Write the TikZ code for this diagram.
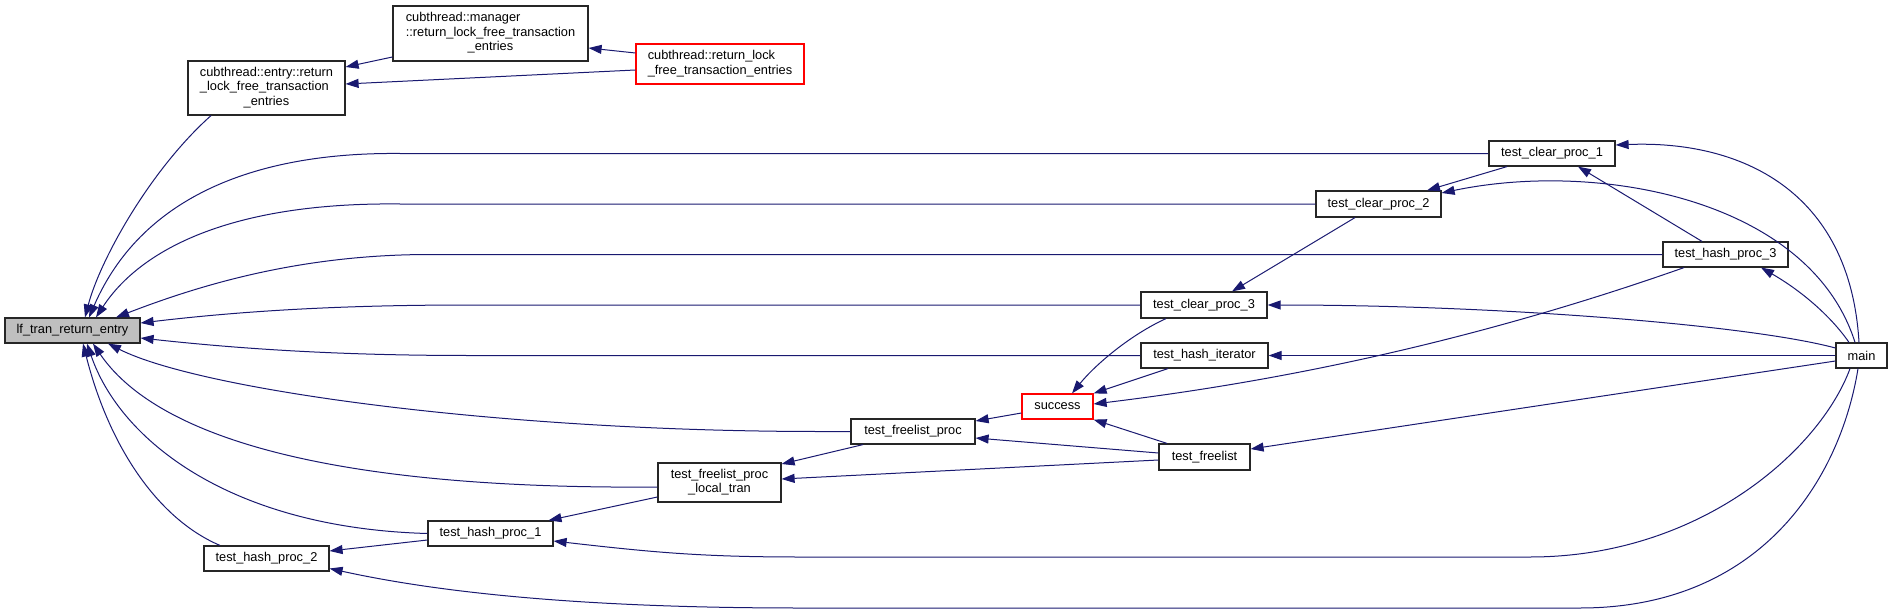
\documentclass[tikz,border=0pt]{standalone}
\usepackage{fontspec}
\setmainfont{Liberation Sans}
\usetikzlibrary{arrows.meta,calc}
\definecolor{edgec}{HTML}{191970}
\definecolor{nodegray}{HTML}{BFBFBF}
\newcommand{\lastc}[1]{\multicolumn{1}{@{}c@{}}{#1}}
\begin{document}
\begin{tikzpicture}[x=1pt,y=-1pt,
  box/.style={draw=black!85, line width=1.2pt, fill=white, inner sep=0pt, minimum height=25pt, align=center, font=\fontsize{12.8}{14.5}\selectfont},
  redbox/.style={box, draw=red},
  e/.style={draw=edgec, line width=1pt, {Triangle[length=13pt,width=9pt]}-}]
\useasboundingbox (0,0) rectangle (1892,615);
% nodes
\node[box, fill=nodegray, minimum width=135pt] (lf) at (72.5,330.5) {lf\_tran\_return\_entry};
\node[box, minimum width=157pt, minimum height=54pt] (entry) at (266.5,88) {\begin{tabular}{@{}l@{}}cubthread::entry::return\\\_lock\_free\_transaction\\\lastc{\_entries}\end{tabular}};
\node[box, minimum width=195pt, minimum height=55pt] (mgr) at (490.5,33.5) {\begin{tabular}{@{}l@{}}cubthread::manager\\::return\_lock\_free\_transaction\\\lastc{\_entries}\end{tabular}};
\node[redbox, minimum width=168pt, minimum height=40pt] (rl) at (720,64) {\begin{tabular}{@{}l@{}}cubthread::return\_lock\\\lastc{\_free\_transaction\_entries}\end{tabular}};
\node[box, minimum width=126pt] (cp1) at (1552,153.5) {test\_clear\_proc\_1};
\node[box, minimum width=125pt, minimum height=26pt] (cp2) at (1378.5,204) {test\_clear\_proc\_2};
\node[box, minimum width=125pt] (hp3) at (1725.5,254.5) {test\_hash\_proc\_3};
\node[box, minimum width=126pt, minimum height=26pt] (cp3) at (1204,305) {test\_clear\_proc\_3};
\node[box, minimum width=127pt] (hit) at (1204.5,355.5) {test\_hash\_iterator};
\node[box, minimum width=51pt] (main) at (1861.5,355.5) {main};
\node[redbox, minimum width=71pt] (sc) at (1057.5,406.5) {success};
\node[box, minimum width=124pt] (flp) at (913,431.5) {test\_freelist\_proc};
\node[box, minimum width=91pt, minimum height=26pt] (fl) at (1204.5,457) {test\_freelist};
\node[box, minimum width=123pt, minimum height=39pt] (flplt) at (719.5,482.5) {\begin{tabular}{@{}l@{}}test\_freelist\_proc\\\lastc{\_local\_tran}\end{tabular}};
\node[box, minimum width=125pt] (hp1) at (490.5,533.5) {test\_hash\_proc\_1};
\node[box, minimum width=125pt] (hp2) at (266.5,558.5) {test\_hash\_proc\_2};
% edges into lf_tran_return_entry
\draw[e] ($(lf.north)+(12.5,0)$) .. controls (100,260) and (150,170) .. ($(entry.south)+(-55.5,0)$);
\draw[e] ($(lf.north)+(16.5,0)$) .. controls (140,200) and (250,152) .. (400,153.5) -- (cp1.west);
\draw[e] ($(lf.north)+(23.5,0)$) .. controls (140,250) and (230,202) .. (400,204) -- (cp2.west);
\draw[e] ($(lf.north)+(43.5,0)$) .. controls (200,285) and (300,254.5) .. (430,254.5) -- (hp3.west);
\draw[e] ($(lf.east)+(0,-7.5)$) .. controls (250,310) and (350,305) .. (470,305) -- (cp3.west);
\draw[e] ($(lf.east)+(0,7.5)$) .. controls (250,350) and (350,355.5) .. (470,355.5) -- (hit.west);
\draw[e] ($(lf.south)+(35.5,0)$) .. controls (200,390) and (500,431.5) .. (820,431.5) -- (flp.west);
\draw[e] ($(lf.south)+(20.5,0)$) .. controls (145,420) and (280,490) .. ($(flplt.west)+(0,4.5)$);
\draw[e] ($(lf.south)+(14.5,0)$) .. controls (120,440) and (230,528) .. (hp1.west);
\draw[e] ($(lf.south)+(10.5,0)$) .. controls (110,450) and (160,520) .. ($(hp2.north)+(-46.5,0)$);
% top left cluster
\draw[e] ($(entry.east)+(0,-21)$) -- ($(mgr.west)+(0,23.5)$);
\draw[e] ($(entry.east)+(0,-4)$) -- ($(rl.west)+(0,6)$);
\draw[e] ($(mgr.east)+(0,14.5)$) -- ($(rl.west)+(0,-11)$);
% right cluster
\draw[e] ($(cp1.east)+(0,-8.5)$) .. controls (1740,140) and (1850,190) .. ($(main.north)+(-2.5,0)$);
\draw[e] ($(cp2.north)+(48.5,0)$) -- ($(cp1.south)+(-45,0)$);
\draw[e] ($(cp2.east)+(0,-11)$) .. controls (1600,160) and (1810,200) .. ($(main.north)+(-6.5,0)$);
\draw[e] ($(cp1.south)+(26,0)$) -- ($(hp3.north)+(-23.5,0)$);
\draw[e] ($(hp3.south)+(35.5,0)$) .. controls (1800,290) and (1830,315) .. ($(main.north)+(-12.5,0)$);
\draw[e] ($(cp3.north)+(28,0)$) -- ($(cp2.south)+(-23.5,0)$);
\draw[e] (cp3.east) .. controls (1500,305) and (1750,325) .. ($(main.west)+(0,-7.5)$);
\draw[e] (hit.east) -- (main.west);
\draw[e] ($(sc.north)+(14.5,0)$) .. controls (1095,365) and (1130,335) .. ($(cp3.south)+(-38,0)$);
\draw[e] (sc.north east) -- ($(hit.south)+(-36.5,0)$);
\draw[e] ($(sc.east)+(0,-2.5)$) .. controls (1250,385) and (1450,350) .. ($(hp3.south)+(-41.5,0)$);
\draw[e] (sc.south east) -- ($(fl.north)+(-37.5,0)$);
\draw[e] ($(flp.east)+(0,-10.5)$) -- ($(sc.west)+(0,6.5)$);
\draw[e] ($(flp.east)+(0,6.5)$) -- ($(fl.west)+(0,-4)$);
\draw[e] ($(fl.east)+(0,-8)$) -- ($(main.west)+(0,5.5)$);
\draw[e] ($(flplt.east)+(0,-18.5)$) -- ($(flp.south)+(-50,0)$);
\draw[e] ($(flplt.east)+(0,-3.5)$) -- ($(fl.west)+(0,3)$);
\draw[e] ($(hp1.north)+(58,0)$) -- ($(flplt.west)+(0,14.5)$);
\draw[e] ($(hp1.east)+(0,7.5)$) .. controls (650,552) and (700,557) .. (800,557) -- (1530,557) .. controls (1700,557) and (1820,450) .. ($(main.south)+(-11.5,0)$);
\draw[e] ($(hp2.east)+(0,-7.5)$) -- ($(hp1.west)+(0,6.5)$);
\draw[e] ($(hp2.east)+(0,10)$) .. controls (450,595) and (600,608) .. (800,608) -- (1580,608) .. controls (1760,608) and (1840,480) .. ($(main.south)+(-3.5,0)$);
\end{tikzpicture}
\end{document}
